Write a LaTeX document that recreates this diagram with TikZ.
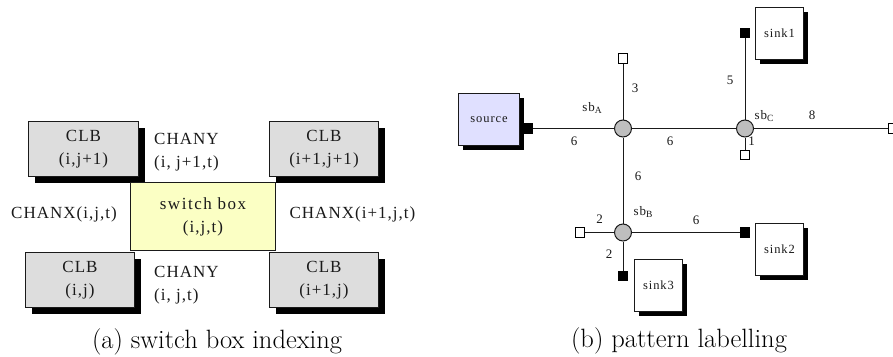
\documentclass[tikz,border=0pt]{standalone}
\usepackage{fontspec}
\usetikzlibrary{shadows}
\newfontfamily\figfont[LetterSpace=6]{Liberation Serif}
\newfontfamily\figspaced[LetterSpace=9]{Liberation Serif}
\newfontfamily\figsmall[LetterSpace=7.5]{Liberation Serif}
\newfontfamily\figplain{Liberation Serif}
\newcommand{\subA}[1]{\raisebox{-2.5pt}{\figplain\fontsize{9.5}{10}\selectfont #1}}
\definecolor{clbgray}{HTML}{DDDDDD}
\definecolor{swyellow}{HTML}{FBFFC4}
\definecolor{srcblue}{HTML}{E0E0FF}
\definecolor{jgray}{HTML}{BEBEBE}
\definecolor{ink}{HTML}{1A1A1A}
\tikzset{
  x=1pt,y=-1pt,
  box/.style={draw=ink,line width=1pt,inner sep=0pt,anchor=north west,align=center,text=ink},
  clb/.style={box,fill=clbgray,minimum width=110pt,minimum height=55pt,
    font=\figfont\fontsize{17}{23}\selectfont,
    drop shadow={shadow xshift=6pt,shadow yshift=-6pt,fill=black,opacity=1}},
  switchbox/.style={box,fill=swyellow,minimum width=145pt,minimum height=68pt,
    font=\figfont\fontsize{17}{23}\selectfont},
  sinkbox/.style={box,fill=white,minimum width=48pt,minimum height=52pt,
    font=\figsmall\fontsize{12.5}{15}\selectfont,
    drop shadow={shadow xshift=4pt,shadow yshift=-4pt,fill=black,opacity=1}},
  sourcebox/.style={sinkbox,fill=srcblue,minimum width=61pt},
  txt/.style={inner sep=0pt,text=ink,font=\figfont\fontsize{17}{23}\selectfont,align=left},
  small/.style={inner sep=0pt,text=ink,font=\figplain\fontsize{13}{15}\selectfont},
  captext/.style={inner sep=0pt,text=black,font=\fontsize{26.5}{30}\selectfont},
  junction/.style={circle,draw=ink,line width=1pt,fill=jgray,minimum size=17pt,inner sep=0pt},
  openpin/.style={rectangle,draw=black,line width=1pt,fill=white,minimum size=9.5pt,inner sep=0pt},
  solidpin/.style={rectangle,fill=black,minimum size=10.5pt,inner sep=0pt},
  wire/.style={draw=ink,line width=1pt}
}
\begin{document}
\begin{tikzpicture}
\useasboundingbox (0,0) rectangle (893,356);
% (a)
\node[clb] (c1) at (28,121) {CLB\\(i,j+1)};
\node[clb,minimum width=109pt] (c2) at (269,121) {CLB\\(i+1,j+1)};
\node[clb,minimum width=109pt] (c3) at (25,252) {CLB\\(i,j)};
\node[clb,minimum width=109pt] (c4) at (269,252) {CLB\\(i+1,j)};
\node[switchbox] (sw) at (130,182) {{\figspaced switch box}\\(i,j,t)};
\node[txt,anchor=west] (ty1) at (154,152.5) {CHANY\\(i, j+1,t)};
\node[txt,anchor=west] (ty2) at (154,285) {CHANY\\(i, j,t)};
\node[txt] (tx1) at (64,214) {CHANX(i,j,t)};
\node[txt] (tx2) at (352.5,214) {CHANX(i+1,j,t)};
\node[captext] (capa) at (217,342) {(a) switch box indexing};
% (b)
\node[sourcebox] (src) at (458,93) {source};
\node[sinkbox] (s1) at (755,7) {sink1};
\node[sinkbox] (s2) at (755,223) {sink2};
\node[sinkbox] (s3) at (634,259) {sink3};
\node[solidpin] (srcpin) at (527.5,128.5) {};
\node[junction] (a) at (623,128.5) {};
\node[junction] (b) at (623,232.5) {};
\node[junction] (cc) at (745,128.5) {};
\node[openpin] (au) at (623,58.5) {};
\node[solidpin] (cu) at (745,33) {};
\node[openpin] (cd) at (745,155) {};
\node[openpin] (cr) at (893,128.5) {};
\node[openpin] (bl) at (580,232.5) {};
\node[solidpin] (br) at (745,232.5) {};
\node[solidpin] (bd) at (623,276) {};
\draw[wire] (srcpin) -- (a);
\draw[wire] (a) -- (au);
\draw[wire] (a) -- (b);
\draw[wire] (a) -- (cc);
\draw[wire] (cc) -- (cu);
\draw[wire] (cc) -- (cd);
\draw[wire] (cc) -- (cr);
\draw[wire] (b) -- (bl);
\draw[wire] (b) -- (br);
\draw[wire] (b) -- (bd);
\node[small] (lsa) at (592,108) {{\figsmall sb}\subA{A}};
\node[small] (lsb) at (643,212) {{\figsmall sb}\subA{B}};
\node[small] (lsc) at (764,116) {{\figsmall sb}\subA{C}};
\node[small] (l1) at (574,141) {6};
\node[small] (l2) at (635,88) {3};
\node[small] (l3) at (638,176.5) {6};
\node[small] (l4) at (670,141) {6};
\node[small] (l5) at (812,115) {8};
\node[small] (l6) at (730,80) {5};
\node[small] (l7) at (751.5,141) {1};
\node[small] (l8) at (696,220) {6};
\node[small] (l9) at (599.5,219) {2};
\node[small] (l10) at (609,254) {2};
\node[captext] (capb) at (679,341) {(b) pattern labelling};
\end{tikzpicture}
\end{document}
